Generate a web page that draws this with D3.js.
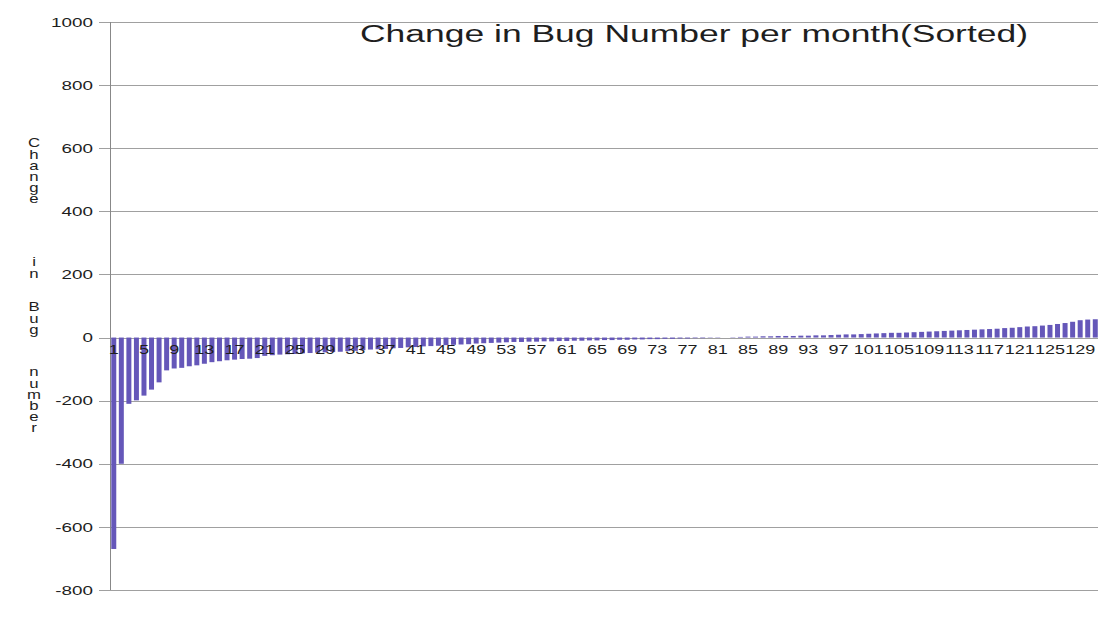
<!DOCTYPE html>
<html>
<head>
<meta charset="utf-8">
<script src="https://cdn.jsdelivr.net/npm/d3@7"></script>
<style>
  html, body { margin: 0; padding: 0; background: #fff; }
  svg { display: block; font-family: Arial, "Liberation Sans", sans-serif; }
</style>
</head>
<body>
<svg id="chart" width="1098" height="617"></svg>
<script>
// Monthly change in bug count, sorted ascending (one bar per month)
const bugChange = [
  -670, -400, -210, -199, -184, -165, -142, -104, -98, -96,
  -91, -88, -83, -78, -75, -72, -70, -68, -67, -65,
  -58, -56, -54, -53, -52, -50, -49, -48, -47, -46,
  -45, -43, -42, -40, -38, -37, -36, -34, -33, -31,
  -30, -28, -27, -26, -24, -23, -22, -21, -19, -18,
  -17, -16, -15, -14, -14, -13, -13, -12, -12, -11,
  -11, -10, -10, -9, -9, -8, -8, -7, -7, -6,
  -6, -5, -5, -4, -4, -3, -3, -2, -2, -1,
  -1, 0, 1, 2, 3, 3, 4, 4, 5, 5,
  5, 6, 6, 7, 7, 8, 9, 10, 10, 11,
  12, 13, 14, 15, 15, 16, 17, 18, 19, 20,
  21, 22, 23, 24, 25, 26, 27, 28, 30, 31,
  33, 35, 36, 38, 40, 43, 46, 50, 55, 57,
  58
];
const months = bugChange.map((_, i) => i + 1);
const xTickLabels = [1, 5, 9, 13, 17, 21, 25, 29, 33, 37, 41, 45, 49, 53, 57, 61, 65,
  69, 73, 77, 81, 85, 89, 93, 97, 101, 105, 109, 113, 117, 121, 125, 129];
const yTickValues = [-800, -600, -400, -200, 0, 200, 400, 600, 800, 1000];
const chartTitle = "Change in Bug Number per month(Sorted)";
const yTitleWords = ["Change", "in", "Bug", "number"];

const svg = d3.select("#chart");
const plotLeft = 110, plotTop = 22, plotBottom = 590;
const step = 7.55;

const x = d3.scaleBand()
  .domain(months)
  .range([plotLeft, plotLeft + months.length * step])
  .paddingInner(0.34)
  .paddingOuter(0.17);

const y = d3.scaleLinear().domain([-800, 1000]).range([plotBottom, plotTop]);

// horizontal gridlines
svg.append("g")
  .selectAll("line")
  .data(yTickValues)
  .join("line")
  .attr("x1", plotLeft - 11)
  .attr("x2", 1098)
  .attr("y1", d => Math.round(y(d)) + 0.5)
  .attr("y2", d => Math.round(y(d)) + 0.5)
  .attr("stroke", "#a0a0a0")
  .attr("stroke-width", 1);

// value axis line
svg.append("line")
  .attr("x1", plotLeft + 0.5).attr("x2", plotLeft + 0.5)
  .attr("y1", y(1000)).attr("y2", y(-800))
  .attr("stroke", "#888");

// y tick labels
svg.append("g")
  .selectAll("text")
  .data(yTickValues)
  .join("text")
  .attr("transform", d => `translate(93,${y(d)}) scale(1.45,1)`)
  .attr("text-anchor", "end")
  .attr("dy", "0.36em")
  .attr("font-size", 13)
  .attr("fill", "#1e1e1e")
  .text(d => d);

// bars
svg.append("g")
  .selectAll("rect")
  .data(bugChange)
  .join("rect")
  .attr("x", (d, i) => x(months[i]))
  .attr("width", x.bandwidth())
  .attr("y", d => y(Math.max(0, d)))
  .attr("height", d => Math.abs(y(d) - y(0)))
  .attr("fill", "#6557b9");

// category tick labels, drawn along the zero line
svg.append("g")
  .selectAll("text")
  .data(xTickLabels)
  .join("text")
  .attr("transform", d => `translate(${x(d) + x.bandwidth() / 2},${y(0) + 16}) scale(1.5,1)`)
  .attr("text-anchor", "middle")
  .attr("font-size", 12)
  .attr("fill", "#1e1e1e")
  .text(d => d);

// chart title
svg.append("text")
  .attr("x", 360)
  .attr("y", 42)
  .attr("font-size", 23)
  .attr("fill", "#1e1e1e")
  .attr("textLength", 668)
  .attr("lengthAdjust", "spacingAndGlyphs")
  .text(chartTitle);

// vertical, letter-stacked value-axis title
const wordTops = [143, 262, 307, 372];
const letterStep = 11.2;
const letters = [];
yTitleWords.forEach((w, wi) => {
  Array.from(w).forEach((ch, ci) => letters.push({ ch, y: wordTops[wi] + ci * letterStep }));
});
svg.append("g")
  .selectAll("text")
  .data(letters)
  .join("text")
  .attr("transform", d => `translate(34,${d.y}) scale(1.4,1)`)
  .attr("text-anchor", "middle")
  .attr("dy", "0.36em")
  .attr("font-size", 12)
  .attr("fill", "#1e1e1e")
  .text(d => d.ch);
</script>
</body>
</html>
